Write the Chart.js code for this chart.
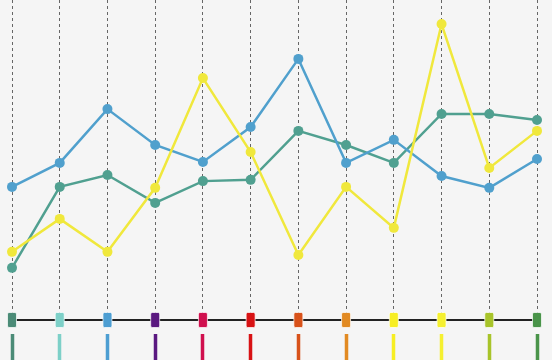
<!DOCTYPE html>
<html>
<head>
<meta charset="utf-8">
<script src="https://cdn.jsdelivr.net/npm/chart.js@4"></script>
<style>
    html, body { margin: 0; padding: 0; background: #f5f5f5; }
    #wrap { width: 552px; height: 360px; position: relative; }
</style>
</head>
<body>
<div id="wrap"><canvas id="lineChart"></canvas></div>
<script>
// Data (y scale 0..100)
const months = ['Jan', 'Feb', 'Mar', 'Apr', 'May', 'Jun', 'Jul', 'Aug', 'Sep', 'Oct', 'Nov', 'Dec'];
const blueValues = [41.6, 49.1, 65.9, 54.7, 49.4, 60.3, 81.6, 49.1, 56.3, 45.0, 41.3, 50.3];
const tealValues = [16.3, 41.6, 45.3, 36.6, 43.4, 43.8, 59.1, 54.7, 49.1, 64.4, 64.4, 62.5];
const yellowValues = [21.3, 31.6, 21.3, 41.3, 75.6, 52.5, 20.3, 41.6, 28.8, 92.5, 47.5, 59.1];

// One colour per category, used for the markers under the axis
const tickColors = ['#4b8b77', '#7dd0c8', '#4d9ed2', '#5a1880', '#d0104e', '#d81214',
                    '#d8521a', '#e28a22', '#f7ee22', '#f5f030', '#a8c42a', '#4a944a'];

// Draw rounded markers on the axis line at every category
const axisMarkers = {
    id: 'axisMarkers',
    afterDraw(chart) {
        const ctx = chart.ctx;
        const xScale = chart.scales.x;
        const y = chart.chartArea.bottom;
        ctx.save();
        xScale.ticks.forEach((t, i) => {
            const x = xScale.getPixelForTick(i);
            ctx.beginPath();
            ctx.roundRect(x - 4.5, y - 7.5, 9, 15, 1.5);
            ctx.fillStyle = tickColors[i % tickColors.length];
            ctx.fill();
            ctx.lineWidth = 1;
            ctx.strokeStyle = 'rgba(255,255,255,0.7)';
            ctx.stroke();
        });
        ctx.restore();
    }
};

function lineSet(label, data, color) {
    return {
        label: label,
        data: data,
        borderColor: color,
        backgroundColor: color,
        pointBackgroundColor: color,
        pointBorderColor: color,
        pointRadius: 5,
        pointBorderWidth: 0,
        borderWidth: 2.5,
        tension: 0,
        fill: false
    };
}

new Chart(document.getElementById('lineChart').getContext('2d'), {
    type: 'line',
    data: {
        labels: months,
        datasets: [
            lineSet('Yellow', yellowValues, '#f0e83c'),
            lineSet('Blue', blueValues, '#50a0cd'),
            lineSet('Teal', tealValues, '#50a090')
        ]
    },
    options: {
        responsive: true,
        maintainAspectRatio: false,
        animation: false,
        layout: { autoPadding: false, padding: { left: 12, right: 15, top: 0, bottom: 0 } },
        plugins: {
            legend: { display: false },
            tooltip: { enabled: false }
        },
        scales: {
            x: {
                offset: false,
                ticks: { display: false },
                grid: {
                    color: '#666666',
                    lineWidth: 1,
                    drawTicks: true,
                    tickLength: 40,
                    tickWidth: 3.5,
                    tickColor: tickColors,
                    tickBorderDash: [0, 13, 40, 0]
                },
                border: { display: true, color: '#222222', width: 2, dash: [3, 3] }
            },
            y: {
                display: false,
                min: 0,
                max: 100
            }
        }
    },
    plugins: [axisMarkers]
});
</script>
</body>
</html>
